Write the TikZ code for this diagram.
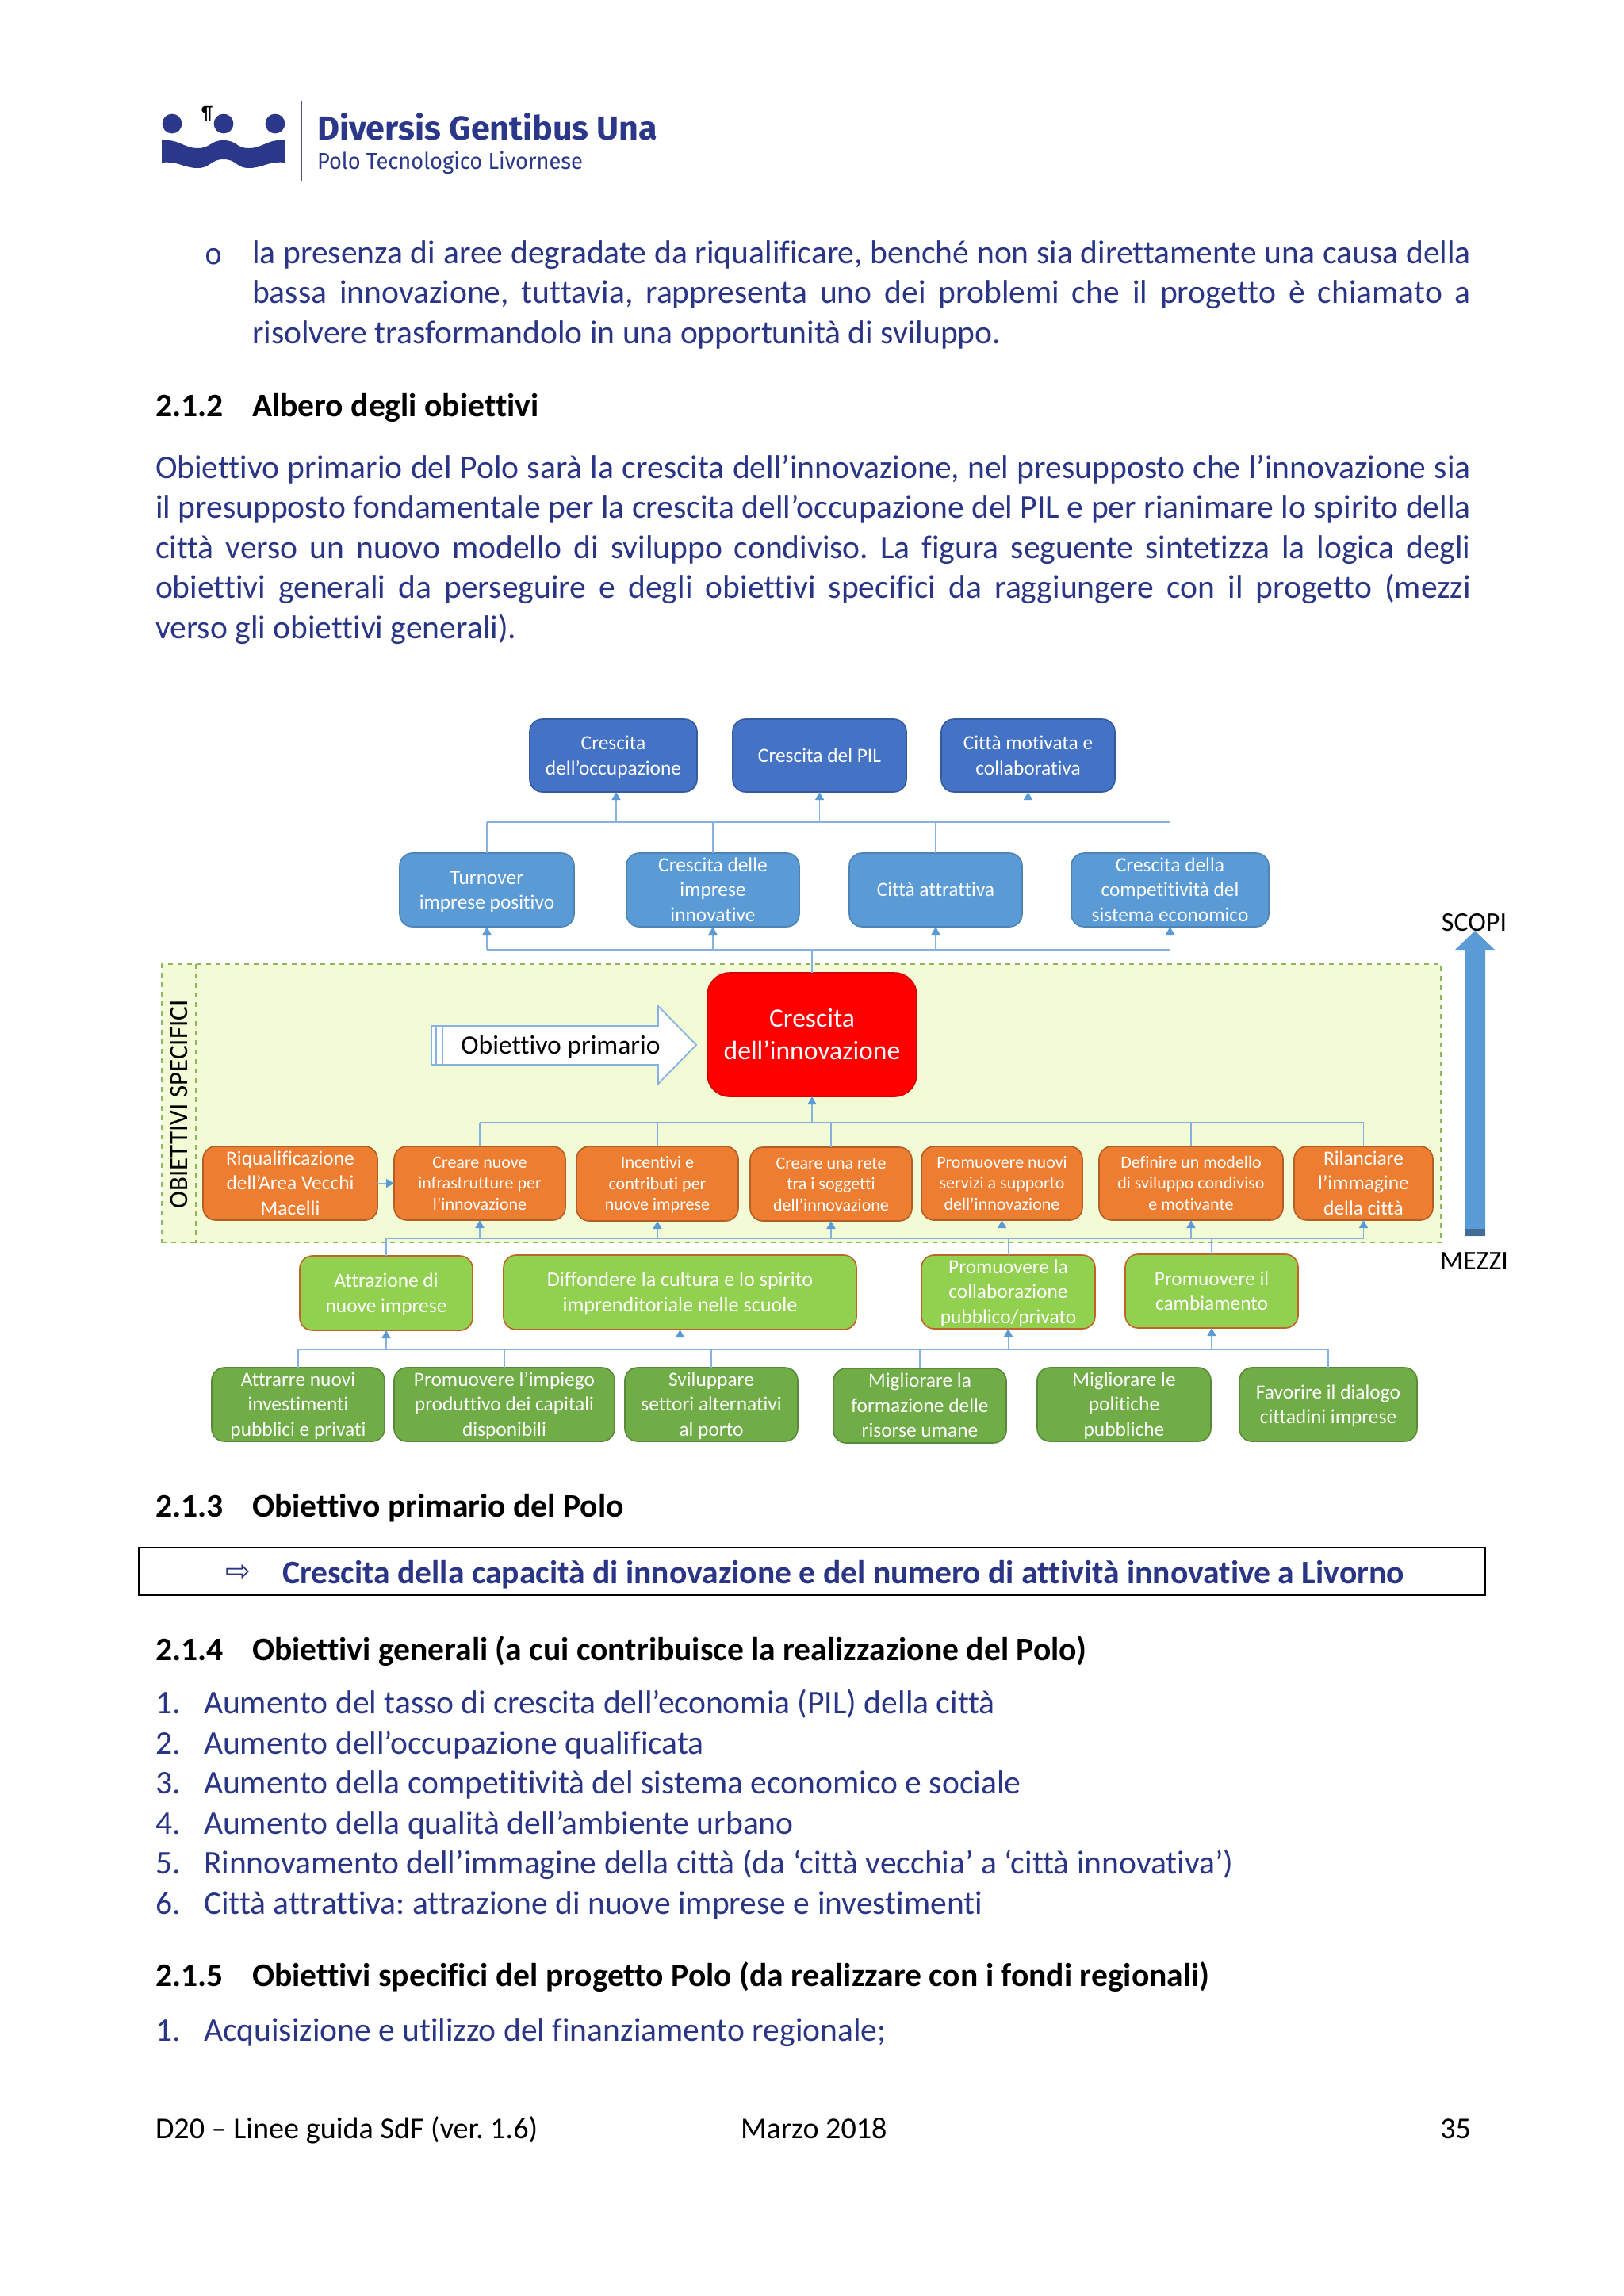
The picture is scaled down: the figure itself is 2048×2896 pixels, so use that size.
\documentclass[tikz,border=0pt]{standalone}
\usepackage{fontspec}
\setmainfont{Carlito}[Ligatures=NoCommon]
\newfontfamily\logofont{Fira Sans}
\newfontfamily\symfont{DejaVu Sans}
\usetikzlibrary{arrows.meta}
\definecolor{bodyblue}{HTML}{2A3585}
\definecolor{logoblue}{HTML}{2B3788}
\definecolor{boxA}{HTML}{4472C4}
\definecolor{boxB}{HTML}{5B9BD5}
\definecolor{boxO}{HTML}{ED7D31}
\definecolor{boxL}{HTML}{92D050}
\definecolor{boxD}{HTML}{70AD47}
\definecolor{zone}{HTML}{F2FBD5}
\definecolor{zoneline}{HTML}{8DB85C}
\definecolor{linkc}{HTML}{86B2DF}
\definecolor{tipc}{HTML}{5B9BD5}
\tikzset{
  x=0.5pt,y=-0.5pt,
  card/.style={rounded corners=8pt,inner sep=0pt,outer sep=0pt,align=center,text=white,line width=0.8pt},
  cardA/.style={card,fill=boxA,draw=boxA!80!black,font=\fontsize{12.7}{15.75}\selectfont},
  cardB/.style={card,fill=boxB,draw=boxB!85!black,font=\fontsize{12.7}{15.75}\selectfont},
  cardR/.style={card,fill=red,draw=red!85!black,rounded corners=14pt,font=\fontsize{16.8}{20.5}\selectfont},
  cardO/.style={card,fill=boxO,draw=boxO!75!black,font=\fontsize{12.7}{15.75}\selectfont},
  cardOs/.style={cardO,font=\fontsize{11}{13.3}\selectfont},
  cardL/.style={card,fill=boxL,draw=boxO!80!black,font=\fontsize{12.7}{15.75}\selectfont},
  cardLw/.style={cardL,font=\fontsize{13.05}{15.75}\selectfont},
  cardD/.style={card,fill=boxD,draw=boxD!80!black,font=\fontsize{12.7}{15.75}\selectfont},
  link/.style={draw=linkc,line width=0.8pt},
  tiplink/.style={link,-{Triangle[length=5pt,width=5.5pt,color=tipc]}},
  txt/.style={inner sep=0pt,outer sep=0pt,anchor=base west,font=\fontsize{20.8}{25}\selectfont},
  para/.style={txt,text=bodyblue},
  head/.style={txt,font=\fontsize{20.8}{25}\bfseries\selectfont,text=black},
  foot/.style={txt,text=black,font=\fontsize{19.08}{23}\selectfont},
}
\newcommand{\bx}[7]{%
  \pgfmathsetmacro\bxw{(#4-#2)/2}\pgfmathsetmacro\bxh{(#5-#3)/2}%
  \node[#6,minimum width=\bxw pt,minimum height=\bxh pt] (#1) at ({(#2+#4)/2},{(#3+#5)/2}) {\rule{0pt}{0.9em}#7\rule[-0.24em]{0pt}{0.24em}};}
\newcommand{\jl}[5]{%
  \pgfmathsetmacro\jlw{(#4-#3)/2}%
  \node[para] (#1) at (#3,#2) {\makebox[\jlw pt][s]{#5}};}
\frenchspacing
\begin{document}
\begin{tikzpicture}
\useasboundingbox (0,0) rectangle (2048,2896);
\fill[white] (0,0) rectangle (2048,2896);

% logo
\fill[logoblue] (217,156) circle (6.2pt) (282,156) circle (6.2pt) (347,156) circle (6.2pt);
\fill[logoblue] (204,177) .. controls (225,175) and (232,187) .. (249,187)
  .. controls (266,187) and (265,177) .. (282,177)
  .. controls (299,177) and (297,187) .. (314,187)
  .. controls (331,187) and (338,175) .. (359,177) -- (359,205)
  .. controls (338,203) and (331,212) .. (314,212)
  .. controls (297,212) and (299,201) .. (282,201)
  .. controls (265,201) and (266,212) .. (249,212)
  .. controls (232,212) and (225,203) .. (204,205) -- cycle;
\draw[color=logoblue!60!gray,line width=0.9pt] (380,128) -- (380,228);
\node[txt,text=black,font=\fontsize{12}{12}\selectfont] (pil) at (254,150) {¶};
\node[txt,text=logoblue] (l1) at (400,176) {\logofont\fontsize{21}{21}\selectfont\bfseries\scalebox{1.025}[1]{Diversis Gentibus Una}};
\node[txt,text=logoblue] (l2) at (400,213) {\logofont\fontsize{14.5}{15}\selectfont\scalebox{0.94}[1]{Polo Tecnologico Livornese}};

% first paragraph
\node[para] (bul) at (258,333) {\symfont\fontsize{18}{18}\selectfont o};
\jl{t1}{332}{318}{1855}{la presenza di aree degradate da riqualificare, benché non sia direttamente una causa della}
\jl{t2}{382.5}{318}{1855}{bassa innovazione, tuttavia, rappresenta uno dei problemi che il progetto è chiamato a}
\node[para] (t3) at (318,433) {risolvere trasformandolo in una opportunità di sviluppo.};

\node[head] (h212n) at (196,525) {2.1.2};
\node[head] (h212) at (318,525) {Albero degli obiettivi};

\jl{p1}{603}{196}{1855}{Obiettivo primario del Polo sarà la crescita dell’innovazione, nel presupposto che l’innovazione sia}
\jl{p2}{653.5}{196}{1855}{il presupposto fondamentale per la crescita dell’occupazione del PIL e per rianimare lo spirito della}
\jl{p3}{704}{196}{1855}{città verso un nuovo modello di sviluppo condiviso. La figura seguente sintetizza la logica degli}
\jl{p4}{754.5}{196}{1855}{obiettivi generali da perseguire e degli obiettivi specifici da raggiungere con il progetto (mezzi}
\node[para] (p5) at (196,805) {verso gli obiettivi generali).};

% zone
\node[fill=zone,draw=zoneline,dashed,line width=0.8pt,minimum width=806.5pt,minimum height=175.75pt,inner sep=0pt,outer sep=0pt] (zonebox) at (1010.5,1391.75) {};
\draw[draw=zoneline,dashed,line width=0.8pt] (zonebox.north west -| 247,0) -- (zonebox.south west -| 247,0);
\node[rotate=90,inner sep=0pt,font=\fontsize{16.5}{18}\selectfont,text=black] (zonelab) at (226,1393) {OBIETTIVI SPECIFICI};

% top rows
\bx{A}{668}{907}{879}{999}{cardA}{Crescita\\dell’occupazione}
\bx{B}{924}{907}{1143}{999}{cardA}{Crescita del PIL}
\bx{C}{1187}{907}{1406}{999}{cardA}{Città motivata e\\collaborativa}
\bx{D}{504}{1076}{724}{1169}{cardB}{Turnover\\imprese positivo}
\bx{E}{790}{1076}{1008}{1169}{cardB}{Crescita delle\\imprese\\innovative}
\bx{F}{1071}{1076}{1289}{1169}{cardB}{Città attrattiva}
\bx{G}{1351}{1076}{1600}{1169}{cardB}{Crescita della\\competitività del\\sistema economico}
\bx{R}{892}{1227}{1156}{1383}{cardR}{Crescita\\dell’innovazione}

% primary arrow
\draw[draw=linkc,fill=white,line width=0.9pt] (544,1294) -- (830,1294) -- (830,1269) -- (878,1318) -- (830,1367) -- (830,1343) -- (544,1343) -- cycle;
\draw[draw=linkc,line width=0.9pt] (550,1294) -- (550,1343) (558,1294) -- (558,1343);
\node[inner sep=0pt,font=\fontsize{16.8}{20}\selectfont,text=black] (prim) at (707,1321) {Obiettivo primario};

% orange
\bx{O1}{256}{1446}{476}{1539}{cardO}{Riqualificazione\\dell’Area Vecchi\\Macelli}
\bx{O2}{497}{1446}{713}{1539}{cardOs}{Creare nuove\\infrastrutture per\\l’innovazione}
\bx{O3}{727}{1446}{931}{1540}{cardOs}{Incentivi e\\contributi per\\nuove imprese}
\bx{O4}{946}{1447}{1150}{1540}{cardOs}{Creare una rete\\tra i soggetti\\dell’innovazione}
\bx{O5}{1162}{1446}{1365}{1539}{cardOs}{Promuovere nuovi\\servizi a supporto\\dell’innovazione}
\bx{O6}{1386}{1446}{1618}{1539}{cardOs}{Definire un modello\\di sviluppo condiviso\\e motivante}
\bx{O7}{1632}{1446}{1807}{1539}{cardO}{Rilanciare\\l’immagine\\della città}

% light green
\bx{L1}{378}{1584}{596}{1678}{cardL}{Attrazione di\\nuove imprese}
\bx{L2}{635}{1583}{1080}{1677}{cardLw}{Diffondere la cultura e lo spirito\\imprenditoriale nelle scuole}
\bx{L3}{1162}{1583}{1381}{1676}{cardL}{Promuovere la\\collaborazione\\pubblico/privato}
\bx{L4}{1419}{1582}{1637}{1675}{cardL}{Promuovere il\\cambiamento}

% dark green
\bx{D1}{267}{1725}{485}{1818}{cardD}{Attrarre nuovi\\investimenti\\pubblici e privati}
\bx{D2}{497}{1725}{775}{1818}{cardD}{Promuovere l’impiego\\produttivo dei capitali\\disponibili}
\bx{D3}{788}{1725}{1006}{1818}{cardD}{Sviluppare\\settori alternativi\\al porto}
\bx{D4}{1051}{1726}{1269}{1820}{cardD}{Migliorare la\\formazione delle\\risorse umane}
\bx{D5}{1308}{1725}{1527}{1818}{cardD}{Migliorare le\\politiche\\pubbliche}
\bx{D6}{1563}{1725}{1787}{1818}{cardD}{Favorire il dialogo\\cittadini imprese}

% buses
\coordinate (bus1) at (0,1037);
\coordinate (bus2) at (0,1198);
\coordinate (bus3) at (0,1416);
\coordinate (bus4) at (0,1562);
\coordinate (bus5) at (0,1702);

\draw[link] (D.north |- bus1) -- (G.north |- bus1);
\foreach \s in {D,E,F,G} {\draw[link] (\s.north) -- (\s.north |- bus1);}
\draw[tiplink] ([xshift=1.75pt]A.south |- bus1) -- ([xshift=1.75pt]A.south);
\foreach \s in {B,C} {\draw[tiplink] (\s.south |- bus1) -- (\s.south);}

\draw[link] (D.south |- bus2) -- (G.south |- bus2);
\draw[link] (R.north) -- (R.north |- bus2);
\foreach \s in {D,E,F,G} {\draw[tiplink] (\s.south |- bus2) -- (\s.south);}

\draw[link] (O2.north |- bus3) -- (O7.north |- bus3);
\foreach \s in {O2,O3,O4,O5,O6,O7} {\draw[link] (\s.north) -- (\s.north |- bus3);}
\draw[tiplink] (R.south |- bus3) -- (R.south);
\draw[tiplink] (O1.east) -- (O2.west);

\draw[link] (L1.north |- bus4) -- (O7.south |- bus4);
\foreach \s in {L1,L2,L3,L4} {\draw[link] (\s.north) -- (\s.north |- bus4);}
\foreach \s in {O2,O3,O4,O5,O6,O7} {\draw[tiplink] (\s.south |- bus4) -- (\s.south);}

\draw[link] (D1.north |- bus5) -- (D6.north |- bus5);
\foreach \s in {D1,D2,D3,D4,D5,D6} {\draw[link] (\s.north) -- (\s.north |- bus5);}
\foreach \s in {L1,L2,L3,L4} {\draw[tiplink] (\s.south |- bus5) -- (\s.south);}

% scopi / mezzi arrow
\fill[boxB] (1847,1559) -- (1847,1198) -- (1835,1198) -- (1860,1174) -- (1885,1198) -- (1873,1198) -- (1873,1559) -- cycle;
\fill[boxB!70!black] (1847,1550) rectangle (1873,1559);
\node[inner sep=0pt,font=\fontsize{17}{18}\selectfont,text=black] (scopi) at (1859,1164) {SCOPI};
\node[inner sep=0pt,font=\fontsize{17}{18}\selectfont,text=black] (mezzi) at (1859,1591) {MEZZI};

% lower text
\node[head] (h213n) at (196,1913) {2.1.3};
\node[head] (h213) at (318,1913) {Obiettivo primario del Polo};
\node[draw=black,line width=0.9pt,minimum width=849pt,minimum height=30pt,inner sep=0pt,outer sep=0pt] (goalbox) at (1024,1982) {};
\node[txt,text=bodyblue,font=\symfont\fontsize{19}{20}\selectfont] (goalarrow) at (284,1994) {⇨};
\node[txt,text=bodyblue,font=\fontsize{20.8}{25}\bfseries\selectfont] (goal) at (356,1997) {Crescita della capacità di innovazione e del numero di attività innovative a Livorno};

\node[head] (h214n) at (196,2094) {2.1.4};
\node[head] (h214) at (318,2094) {Obiettivi generali (a cui contribuisce la realizzazione del Polo)};

\node[para] (n1) at (196,2161.5) {1.};
\node[para] (g1) at (257,2161.5) {Aumento del tasso di crescita dell’economia (PIL) della città};
\node[para] (n2) at (196,2212) {2.};
\node[para] (g2) at (257,2212) {Aumento dell’occupazione qualificata};
\node[para] (n3) at (196,2262.5) {3.};
\node[para] (g3) at (257,2262.5) {Aumento della competitività del sistema economico e sociale};
\node[para] (n4) at (196,2313) {4.};
\node[para] (g4) at (257,2313) {Aumento della qualità dell’ambiente urbano};
\node[para] (n5) at (196,2363.5) {5.};
\node[para] (g5) at (257,2363.5) {Rinnovamento dell’immagine della città (da ‘città vecchia’ a ‘città innovativa’)};
\node[para] (n6) at (196,2414) {6.};
\node[para] (g6) at (257,2414) {Città attrattiva: attrazione di nuove imprese e investimenti};

\node[head] (h215n) at (196,2505) {2.1.5};
\node[head] (h215) at (318,2505) {Obiettivi specifici del progetto Polo (da realizzare con i fondi regionali)};
\node[para] (n7) at (196,2574.5) {1.};
\node[para] (s1) at (257,2574.5) {Acquisizione e utilizzo del finanziamento regionale;};

\node[foot] (f1) at (196,2697) {D20 – Linee guida SdF (ver. 1.6)};
\node[foot] (f2) at (934,2697) {Marzo 2018};
\node[foot,anchor=base east] (f3) at (1855,2697) {35};
\end{tikzpicture}
\end{document}
